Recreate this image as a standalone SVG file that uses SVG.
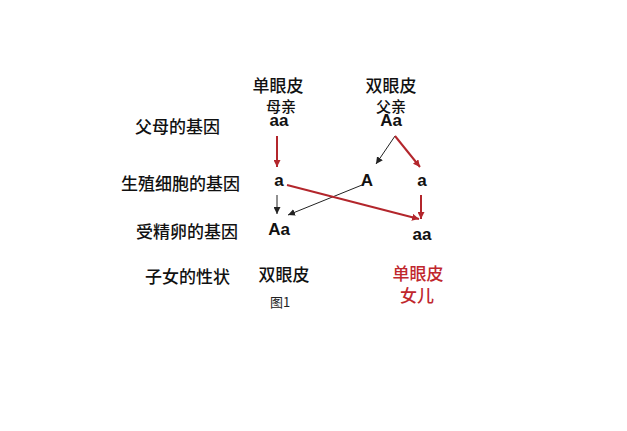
<svg xmlns="http://www.w3.org/2000/svg" width="627" height="431" viewBox="0 0 627 431">
<style>
.lbl{font-family:"Noto Sans CJK SC","Noto Sans",sans-serif;font-size:17px;font-weight:500;fill:#111}
.sm{font-family:"Noto Sans CJK SC","Noto Sans",sans-serif;font-size:15px;font-weight:500;fill:#111}
.g{font-family:"Liberation Sans",Arial,sans-serif;font-size:17px;font-weight:bold;fill:#111;text-anchor:middle}
.red{fill:#c0272d}
.c{text-anchor:middle}
.lk{stroke:#222;stroke-width:1;fill:none}
.lr{stroke:#b3262c;stroke-width:2;fill:none}
</style>
<defs>
<marker id="ak" viewBox="0 0 10 10" refX="10" refY="5" markerWidth="7" markerHeight="7" markerUnits="userSpaceOnUse" orient="auto"><path d="M0,0 L10,5 L0,10 z" fill="#222"/></marker>
<marker id="ar" viewBox="0 0 10 10" refX="10" refY="5" markerWidth="7" markerHeight="7" markerUnits="userSpaceOnUse" orient="auto"><path d="M0,0 L10,5 L0,10 z" fill="#b3262c"/></marker>
</defs>
<rect width="627" height="431" fill="#ffffff"/>
<g id="row-labels">
<text class="lbl" x="135" y="133">父母的基因</text>
<text class="lbl" x="121" y="190">生殖细胞的基因</text>
<text class="lbl" x="136" y="238">受精卵的基因</text>
<text class="lbl" x="145" y="283">子女的性状</text>
</g>
<g id="mother">
<text class="lbl c" x="278" y="92">单眼皮</text>
<text class="sm c" x="281" y="112">母亲</text>
<text class="g" x="279" y="126">aa</text>
</g>
<g id="father">
<text class="lbl c" x="391" y="92">双眼皮</text>
<text class="sm c" x="391" y="112">父亲</text>
<text class="g" x="391" y="126">Aa</text>
</g>
<g id="gamete-a1"><text class="g" x="279" y="186">a</text></g>
<g id="gamete-A"><text class="g" x="367" y="186">A</text></g>
<g id="gamete-a2"><text class="g" x="422" y="186">a</text></g>
<g id="zygote-Aa"><text class="g" x="279" y="235">Aa</text></g>
<g id="zygote-aa"><text class="g" x="422" y="240">aa</text></g>
<g id="trait-double"><text class="lbl c" x="284" y="281">双眼皮</text></g>
<g id="trait-single">
<text class="lbl c red" x="418" y="280">单眼皮</text>
<text class="lbl c red" x="417" y="302">女儿</text>
</g>
<g id="caption"><text x="280" y="307" text-anchor="middle" font-family="'Noto Sans CJK SC',sans-serif" font-size="13" fill="#222">图1</text></g>
<g id="connectors">
<line class="lr" x1="277" y1="136" x2="277" y2="167" marker-end="url(#ar)"/>
<line class="lk" x1="395" y1="136" x2="376" y2="164" marker-end="url(#ak)"/>
<line class="lr" x1="395" y1="136" x2="420" y2="167" marker-end="url(#ar)"/>
<line class="lk" x1="277" y1="195" x2="277" y2="214" marker-end="url(#ak)"/>
<line class="lk" x1="362" y1="185" x2="288" y2="215" marker-end="url(#ak)"/>
<line class="lr" x1="287" y1="185" x2="419" y2="219" marker-end="url(#ar)"/>
<line class="lr" x1="421" y1="195" x2="421" y2="219" marker-end="url(#ar)"/>
</g>
</svg>
